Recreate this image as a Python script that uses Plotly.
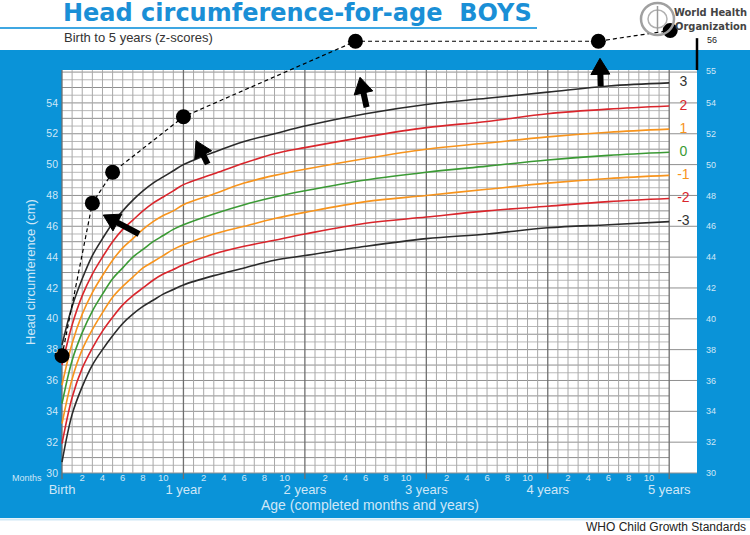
import math
import plotly.graph_objects as go

# ---------------- data ----------------
months = [0, 1, 2, 3, 4, 5, 6, 7, 8, 9, 10, 11, 12, 15, 18, 21, 24, 30, 36, 42, 48, 54, 60]
sd_p3 = [38.3, 40.8, 42.6, 44.1, 45.2, 46.2, 47.0, 47.7, 48.3, 48.8, 49.2, 49.6, 50.0, 50.8, 51.5, 52.0, 52.5, 53.3, 53.9, 54.3, 54.7, 55.1, 55.3]
sd_p2 = [37.0, 39.6, 41.5, 42.9, 44.0, 45.0, 45.8, 46.4, 47.0, 47.5, 47.9, 48.3, 48.7, 49.4, 50.1, 50.7, 51.1, 51.8, 52.4, 52.8, 53.3, 53.6, 53.8]
sd_p1 = [35.7, 38.4, 40.3, 41.7, 42.8, 43.8, 44.6, 45.2, 45.8, 46.3, 46.7, 47.0, 47.4, 48.1, 48.8, 49.3, 49.7, 50.4, 51.0, 51.4, 51.8, 52.1, 52.3]
sd_0 = [34.5, 37.3, 39.1, 40.5, 41.6, 42.6, 43.3, 44.0, 44.5, 45.0, 45.4, 45.8, 46.1, 46.8, 47.4, 47.9, 48.3, 49.0, 49.5, 49.9, 50.3, 50.6, 50.8]
sd_m1 = [33.2, 36.1, 38.0, 39.3, 40.4, 41.4, 42.1, 42.7, 43.3, 43.7, 44.1, 44.5, 44.8, 45.5, 46.0, 46.5, 46.9, 47.6, 48.0, 48.4, 48.8, 49.1, 49.3]
sd_m2 = [31.9, 34.9, 36.8, 38.1, 39.2, 40.1, 40.9, 41.5, 42.0, 42.5, 42.9, 43.2, 43.5, 44.2, 44.7, 45.1, 45.5, 46.2, 46.6, 47.0, 47.3, 47.6, 47.8]
sd_m3 = [30.7, 33.8, 35.6, 37.0, 38.0, 38.9, 39.7, 40.3, 40.8, 41.2, 41.6, 41.9, 42.2, 42.8, 43.3, 43.8, 44.1, 44.7, 45.2, 45.5, 45.9, 46.1, 46.3]
z_labels = ["3", "2", "1", "0", "-1", "-2", "-3"]

point_age = [0, 3, 5, 12, 29, 53, 60.1]
point_hc = [37.6, 47.5, 49.5, 53.1, 58.0, 58.0, 58.7]

# arrows: (tip age, tip hc, tail age, tail hc)
arrows = [(4.08, 46.73, 7.61, 45.5), (13.24, 51.55, 14.4, 50.04),
          (29.45, 55.66, 30.1, 53.72), (53.16, 56.89, 53.23, 55.1)]

left_ticks = list(range(30, 55, 2))
right_tick_vals = left_ticks + [56.1]
right_tick_text = [str(v) for v in left_ticks] + ["55"]
month_tick_vals = [m for m in range(1, 60) if m % 12 in (2, 4, 6, 8, 10)]
month_tick_text = [str(m % 12) for m in month_tick_vals]
year_vals = [0, 12, 24, 36, 48, 60]
year_text = ["Birth", "1 year", "2 years", "3 years", "4 years", "5 years"]

# ---------------- geometry ----------------
W, H = 750, 535
X0, PXM = 62.0, 10.12     # px of birth, px per month
Y30, PXC = 473.0, 15.42   # px of 30 cm, px per cm
xr = [-X0 / PXM, (W - X0) / PXM]
yr = [30 - (H - Y30) / PXC, 30 + Y30 / PXC]
GRID_TOP = 56.13
ZONE_RIGHT = (697 - X0) / PXM


def py(p):  # paper y from pixel from top
    return 1 - p / H


def px(p):
    return p / W


def to_px(a, c):
    return X0 + a * PXM, Y30 - (c - 30) * PXC


def to_data(x, y):
    return (x - X0) / PXM, 30 + (Y30 - y) / PXC


BLUE = "#0a93d8"
LIGHT = "#cfe7f7"
curve_colors = ["#2b2b2b", "#d9262c", "#f7941d", "#3b9a35", "#f7941d", "#d9262c", "#2b2b2b"]
label_colors = ["#333333", "#d9262c", "#f7941d", "#3b9a35", "#f7941d", "#d9262c", "#333333"]
series = [sd_p3, sd_p2, sd_p1, sd_0, sd_m1, sd_m2, sd_m3]

fig = go.Figure()

shapes = []
# blue panel
shapes.append(dict(type="rect", xref="paper", yref="paper", x0=0, x1=1, y0=py(518), y1=py(50),
                   fillcolor=BLUE, line=dict(width=0), layer="below"))
shapes.append(dict(type="line", xref="paper", yref="paper", x0=0, x1=1, y0=py(519.5), y1=py(519.5),
                   line=dict(color="#cfe8f5", width=2), layer="below"))
# white grid area
shapes.append(dict(type="rect", xref="x", yref="y", x0=0, x1=ZONE_RIGHT, y0=30, y1=GRID_TOP,
                   fillcolor="white", line=dict(width=0), layer="below"))
# horizontal grid
v = 30.0
while v <= 56.0 + 1e-9:
    major = abs(v - round(v)) < 1e-9
    even = major and int(round(v)) % 2 == 0
    shapes.append(dict(type="line", xref="x", yref="y", x0=0, x1=ZONE_RIGHT if even else 60, y0=v, y1=v,
                       line=dict(color="#8f8f8f" if major else "#b8b8b8", width=1), layer="below"))
    v += 0.5
# vertical grid
for m in range(0, 61):
    if m % 12 == 0:
        shapes.append(dict(type="line", xref="x", yref="y", x0=m, x1=m, y0=30 - 6 / PXC, y1=GRID_TOP,
                           line=dict(color="#6f6f6f", width=1.3), layer="below"))
    else:
        shapes.append(dict(type="line", xref="x", yref="y", x0=m, x1=m, y0=30, y1=GRID_TOP,
                           line=dict(color="#a8a8a8", width=1), layer="below"))
# black line top right
shapes.append(dict(type="line", xref="x", yref="y", x0=ZONE_RIGHT, x1=ZONE_RIGHT, y0=GRID_TOP, y1=58.2,
                   line=dict(color="black", width=2.5)))
# title underline
shapes.append(dict(type="line", xref="paper", yref="paper", x0=0, x1=px(537), y0=py(28), y1=py(28),
                   line=dict(color="#3fa7e2", width=2)))
# WHO emblem (simplified)
shapes.append(dict(type="circle", xref="paper", yref="paper", x0=px(641), x1=px(674), y0=py(35), y1=py(3),
                   fillcolor="rgba(0,0,0,0)", line=dict(color="#a0a0a0", width=2.5)))
shapes.append(dict(type="circle", xref="paper", yref="paper", x0=px(648), x1=px(667), y0=py(28), y1=py(10),
                   fillcolor="rgba(0,0,0,0)", line=dict(color="#b0b0b0", width=1.5)))
shapes.append(dict(type="line", xref="paper", yref="paper", x0=px(657.5), x1=px(657.5), y0=py(32), y1=py(6),
                   line=dict(color="#9a9a9a", width=1.5)))

# arrows drawn as shaft + triangular head
HEAD_L, HEAD_W, SHAFT_W = 16.0, 9.5, 6.0
for tx, ty, ax_, ay_ in arrows:
    tpx, tpy = to_px(tx, ty)
    spx, spy = to_px(ax_, ay_)
    L = math.hypot(tpx - spx, tpy - spy)
    dx, dy = (tpx - spx) / L, (tpy - spy) / L
    nx, ny = -dy, dx
    bx, by = tpx - dx * HEAD_L, tpy - dy * HEAD_L
    p1 = to_data(tpx, tpy)
    p2 = to_data(bx + nx * HEAD_W, by + ny * HEAD_W)
    p3 = to_data(bx - nx * HEAD_W, by - ny * HEAD_W)
    shapes.append(dict(type="path", xref="x", yref="y",
                       path=f"M {p1[0]},{p1[1]} L {p2[0]},{p2[1]} L {p3[0]},{p3[1]} Z",
                       fillcolor="black", line=dict(color="black", width=1)))
    b0 = to_data(bx + dx * 1.0, by + dy * 1.0)
    shapes.append(dict(type="line", xref="x", yref="y", x0=ax_, y0=ay_, x1=b0[0], y1=b0[1],
                       line=dict(color="black", width=SHAFT_W)))

# curves
for s, c in zip(series, curve_colors):
    fig.add_trace(go.Scatter(x=months, y=s, mode="lines",
                             line=dict(color=c, width=1.6, shape="spline", smoothing=1.0),
                             hoverinfo="skip", showlegend=False))
# z labels
fig.add_trace(go.Scatter(x=[61.4] * 7, y=[s[-1] for s in series], mode="text", text=z_labels,
                         textfont=dict(color=label_colors, size=14, family="Liberation Sans, Arial"),
                         showlegend=False, hoverinfo="skip"))
# patient points
fig.add_trace(go.Scatter(x=point_age, y=point_hc, mode="lines+markers",
                         line=dict(color="black", width=1.2, dash="4px,3px"),
                         marker=dict(color="black", size=15), cliponaxis=False,
                         showlegend=False, hoverinfo="skip"))

font = "Liberation Sans, Arial, sans-serif"
annotations = [
    dict(x=px(61), y=py(13), xref="paper", yref="paper", xanchor="left", yanchor="middle", showarrow=False,
         text="<b>Head circumference-for-age\u00a0\u00a0BOYS</b>",
         font=dict(size=24, color="#1a8fd6", family="DejaVu Sans, Verdana, sans-serif")),
    dict(x=px(62), y=py(38), xref="paper", yref="paper", xanchor="left", yanchor="middle", showarrow=False,
         text="Birth to 5 years (z-scores)", font=dict(size=13, color="#333333", family=font)),
    dict(x=px(749), y=py(13), xref="paper", yref="paper", xanchor="right", yanchor="middle", showarrow=False,
         text="<b>World Health</b>",
         font=dict(size=11, color="#444444", family="Liberation Sans Narrow, DejaVu Sans Condensed, " + font)),
    dict(x=px(749), y=py(26.5), xref="paper", yref="paper", xanchor="right", yanchor="middle", showarrow=False,
         text="<b>Organization</b>",
         font=dict(size=11, color="#444444", family="Liberation Sans Narrow, DejaVu Sans Condensed, " + font)),
    dict(x=px(712), y=py(40), xref="paper", yref="paper", xanchor="center", yanchor="middle", showarrow=False,
         text="56", font=dict(size=9, color="#222222", family=font)),
    dict(x=px(748), y=py(527), xref="paper", yref="paper", xanchor="right", yanchor="middle", showarrow=False,
         text="WHO Child Growth Standards", font=dict(size=12, color="#222222", family=font)),
    dict(x=px(30), y=py(272), xref="paper", yref="paper", xanchor="center", yanchor="middle", showarrow=False,
         textangle=-90, text="Head circumference (cm)", font=dict(size=13, color=LIGHT, family=font)),
    dict(x=px(370), y=py(505), xref="paper", yref="paper", xanchor="center", yanchor="middle", showarrow=False,
         text="Age (completed months and years)", font=dict(size=14, color=LIGHT, family=font)),
    dict(x=px(44), y=py(478), xref="paper", yref="paper", xanchor="right", yanchor="middle", showarrow=False,
         text="Months", font=dict(size=9, color=LIGHT, family=font)),
]

fig.update_layout(
    width=W, height=H, margin=dict(l=0, r=0, t=0, b=0, pad=0),
    paper_bgcolor="white", plot_bgcolor="rgba(0,0,0,0)",
    shapes=shapes, annotations=annotations,
    xaxis=dict(domain=[0, 1], range=xr, anchor="free", position=py(Y30 - 3), showgrid=False, zeroline=False,
               showline=False, tickmode="array", tickvals=month_tick_vals, ticktext=month_tick_text,
               ticks="", tickfont=dict(size=9.5, color=LIGHT, family=font)),
    xaxis2=dict(overlaying="x", range=xr, anchor="free", position=py(Y30), side="bottom", showgrid=False,
                zeroline=False, showline=False, tickmode="array", tickvals=year_vals, ticktext=year_text,
                ticks="", ticklabelstandoff=7, tickfont=dict(size=13, color=LIGHT, family=font)),
    yaxis=dict(domain=[0, 1], range=yr, anchor="free", position=px(X0), side="left", showgrid=False,
               zeroline=False, showline=False, tickmode="array", tickvals=left_ticks, ticks="",
               ticklabelstandoff=4, tickfont=dict(size=10.5, color=LIGHT, family=font)),
    yaxis2=dict(overlaying="y", range=yr, anchor="free", position=px(698), side="right", showgrid=False,
                zeroline=False, showline=False, tickmode="array", tickvals=right_tick_vals,
                ticktext=right_tick_text, ticks="", ticklabelstandoff=7,
                tickfont=dict(size=9, color=LIGHT, family=font)),
)
# dummy trace so xaxis2/yaxis2 are drawn
fig.add_trace(go.Scatter(x=[None], y=[None], xaxis="x2", yaxis="y2", showlegend=False, hoverinfo="skip"))

fig.write_html("out.html")
